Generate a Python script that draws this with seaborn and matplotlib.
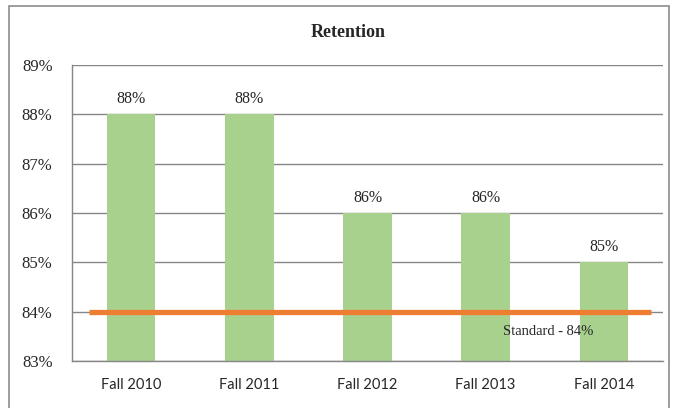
import numpy as np
import pandas as pd
import matplotlib
matplotlib.use("Agg")
import matplotlib.pyplot as plt
import seaborn as sns
from matplotlib.patches import Rectangle

# Datos
semestres = ["Fall 2010", "Fall 2011", "Fall 2012", "Fall 2013", "Fall 2014"]
retencion = [88, 88, 86, 86, 85]
estandar = 84
etiqueta_estandar = "Standard - 84%"
ticks_y = [83, 84, 85, 86, 87, 88, 89]

df = pd.DataFrame({"semestre": semestres, "retencion": retencion})

sns.set_style("white")
fig = plt.figure(figsize=(6.73, 4.08), dpi=100)
ax = fig.add_axes([0.107, 0.115, 0.878, 0.726])

sns.barplot(
    data=df,
    x="semestre",
    y="retencion",
    color="#A9D18E",
    saturation=1,
    width=0.41,
    linewidth=0,
    ax=ax,
    zorder=2,
)

# Las barras empiezan en la base del eje (83%)
for bar in ax.patches:
    h = bar.get_height()
    bar.set_y(ticks_y[0])
    bar.set_height(h - ticks_y[0])

for bar, v in zip(ax.patches, retencion):
    ax.text(
        bar.get_x() + bar.get_width() / 2,
        v + 0.14,
        f"{v}%",
        ha="center",
        va="bottom",
        fontsize=11.5,
        family="Liberation Serif",
    )

# Línea del estándar
ax.plot([-0.36, 4.4], [estandar, estandar], color="#ED7D31", linewidth=3.8,
        solid_capstyle="butt", zorder=3)
ax.text(3.53, estandar - 0.4, etiqueta_estandar, ha="center", va="center",
        fontsize=10.5, family="Liberation Serif", zorder=4)

ax.set_ylim(ticks_y[0], ticks_y[-1])
ax.set_xlim(-0.5, 4.5)
ax.set_yticks(ticks_y)
ax.set_yticklabels([f"{t}%" for t in ticks_y], family="Liberation Serif", fontsize=12)
ax.set_xticks(range(len(semestres)))
ax.set_xticklabels(semestres, family="Lato", fontsize=10.5)
ax.tick_params(axis="y", length=0, pad=14)
ax.tick_params(axis="x", length=0, pad=12)
ax.set_xlabel("")
ax.set_ylabel("")
ax.yaxis.grid(True, color="#868686", linewidth=1, zorder=0)
ax.set_axisbelow(True)
for s in ["top", "right"]:
    ax.spines[s].set_visible(False)
for s in ["left", "bottom"]:
    ax.spines[s].set_color("#868686")
    ax.spines[s].set_linewidth(1)

fig.text(0.517, 0.921, "Retention", ha="center", va="center", fontsize=13,
         fontweight="bold", family="Liberation Serif")

# Borde exterior del gráfico
fig.patches.append(Rectangle((9 / 673, -0.05), 660 / 673, 1 - 6 / 408 + 0.05,
                             transform=fig.transFigure, fill=False,
                             edgecolor="#8C8C8C", linewidth=1.2))

fig.savefig("out.png", dpi=100)
